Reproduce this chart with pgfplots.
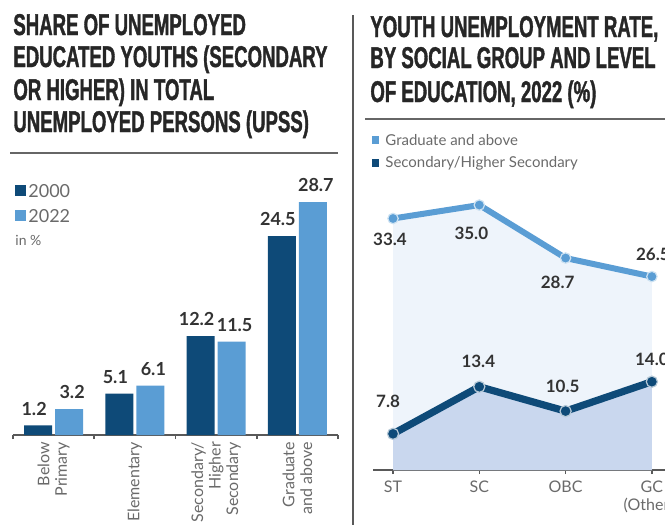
\documentclass[border=0pt]{standalone}
\usepackage{pgfplots}
\pgfplotsset{compat=1.18}
\usepackage{fontspec}
\setmainfont{Lato}
\newfontfamily\titlefont{Liberation Sans}[FakeStretch=0.62, FakeBold=1.2]
\definecolor{dkblue}{HTML}{0E4A78}
\definecolor{ltblue}{HTML}{5A9DD4}
\definecolor{areaL}{HTML}{EEF4FB}
\definecolor{areaD}{HTML}{C9D7EE}
\definecolor{txtgray}{HTML}{6A6A6A}
\definecolor{numgray}{HTML}{333333}
\definecolor{ttl}{HTML}{262626}
\def\u{0.5pt}
\begin{document}
\begin{tikzpicture}
\path[use as bounding box] (0,0) rectangle (665*\u,-525*\u);
% titles
\begin{scope}[every node/.style={anchor=base west, inner sep=0pt, text=ttl, font=\titlefont\bfseries\fontsize{15}{16}\selectfont}]
\node at (13*\u,-35*\u) {SHARE OF UNEMPLOYED};
\node at (13*\u,-67*\u) {EDUCATED YOUTHS (SECONDARY};
\node at (13*\u,-100*\u) {OR HIGHER) IN TOTAL};
\node at (13*\u,-132*\u) {UNEMPLOYED PERSONS (UPSS)};
\node at (370*\u,-37*\u) {YOUTH UNEMPLOYMENT RATE,};
\node at (370*\u,-68*\u) {BY SOCIAL GROUP AND LEVEL};
\node at (370*\u,-102*\u) {OF EDUCATION, 2022 (\%)};
\end{scope}
% rules
\draw[gray!80!black, line width=1pt] (10*\u,-153*\u) -- (338*\u,-153*\u);
\draw[gray!80!black, line width=1pt] (365*\u,-119*\u) -- (665*\u,-119*\u);
\draw[gray!70!black, line width=0.8pt] (353*\u,-15*\u) -- (353*\u,-525*\u);
% left legend
\fill[dkblue] (15*\u,-185*\u) rectangle (26*\u,-196*\u);
\fill[ltblue] (15*\u,-210*\u) rectangle (26*\u,-221*\u);
\node[anchor=west, inner sep=0pt, text=txtgray, font=\fontsize{9}{10}\selectfont] at (28*\u,-191*\u) {2000};
\node[anchor=west, inner sep=0pt, text=txtgray, font=\fontsize{9}{10}\selectfont] at (28*\u,-216*\u) {2022};
\node[anchor=west, inner sep=0pt, text=txtgray, font=\fontsize{7}{8}\selectfont] at (15*\u,-240*\u) {in \%};
% right legend
\fill[ltblue] (372*\u,-136*\u) rectangle (379*\u,-144*\u);
\fill[dkblue] (372*\u,-159*\u) rectangle (379*\u,-167*\u);
\node[anchor=west, inner sep=0pt, text=txtgray, font=\fontsize{7.5}{8}\selectfont] at (385*\u,-140*\u) {Graduate and above};
\node[anchor=west, inner sep=0pt, text=txtgray, font=\fontsize{7.5}{8}\selectfont] at (385*\u,-163*\u) {Secondary/Higher Secondary};
% left bar chart
\begin{axis}[
  at={(13*\u,-435*\u)}, anchor=south west,
  scale only axis, width=325*\u, height=284*\u,
  xmin=-0.5, xmax=3.5, ymin=0, ymax=35,
  axis x line*=bottom, axis y line=none,
  x axis line style={gray!70!black, line width=0.8pt, -},
  ybar=3*\u, bar width=28*\u,
  xtick={0,1,2,3},
  xticklabels={{Below\\Primary},{Elementary},{Secondary/\\Higher\\Secondary},{Graduate\\and above}},
  xticklabel style={rotate=90, anchor=east, align=right, text=txtgray, font=\fontsize{8}{8.8}\selectfont},
  major tick length=0pt,
  minor xtick={-0.5,0.5,1.5,2.5,3.5},
  minor tick length=4*\u, tick align=outside,
  tick style={gray!70!black, line width=0.8pt},
  clip=false,
  nodes near coords,
  nodes near coords style={font=\bfseries\fontsize{9}{10}\selectfont, text=numgray, yshift=1.5pt},
  point meta=explicit symbolic,
]
\addplot[fill=dkblue, draw=none, nodes near coords style={xshift=-2pt}] coordinates {(0,1.2)[1.2] (1,5.1)[5.1] (2,12.2)[12.2] (3,24.5)[24.5]};
\addplot[fill=ltblue, draw=none, nodes near coords style={xshift=1.5pt}] coordinates {(0,3.2)[3.2] (1,6.1)[6.1] (2,11.5)[11.5] (3,28.7)[28.7]};
\end{axis}
% right line chart
\begin{axis}[
  at={(373*\u,-470*\u)}, anchor=south west,
  scale only axis, width=292*\u, height=307*\u,
  xmin=-0.232, xmax=3.152, ymin=3.5, ymax=40,
  axis x line*=bottom, axis y line=none,
  x axis line style={gray!70!black, line width=0.8pt, -},
  xtick={0,1,2,3},
  xticklabels={ST,SC,OBC,{GC\\(Others)}},
  xticklabel style={align=center, text=txtgray, font=\fontsize{8}{9}\selectfont},
  major tick length=4*\u, tick align=outside,
  tick style={gray!70!black, line width=0.8pt},
  clip=false,
]
\addplot[fill=areaL, draw=none] coordinates {(0,3.5) (0,33.4) (1,35.0) (2,28.7) (3,26.5) (3,3.5)} -- cycle;
\addplot[fill=areaD, draw=none] coordinates {(0,3.5) (0,7.8) (1,13.4) (2,10.5) (3,14.0) (3,3.5)} -- cycle;
\addplot[ltblue, line width=3pt, mark=*, mark size=2.6pt, mark options={fill=ltblue, draw=white!70!ltblue, line width=0.6pt}] coordinates {(0,33.4) (1,35.0) (2,28.7) (3,26.5)};
\addplot[dkblue, line width=3.6pt, mark=*, mark size=2.8pt, mark options={fill=dkblue, draw=white!70!dkblue, line width=0.6pt}] coordinates {(0,7.8) (1,13.4) (2,10.5) (3,14.0)};
\begin{scope}[every node/.style={font=\bfseries\fontsize{8.5}{9}\selectfont, text=numgray}]
\node[xshift=-3*\u, yshift=-21*\u] at (axis cs:0,33.4) {33.4};
\node[xshift=-8*\u, yshift=-28*\u] at (axis cs:1,35.0) {35.0};
\node[xshift=-8*\u, yshift=-24*\u] at (axis cs:2,28.7) {28.7};
\node[xshift=1*\u, yshift=22*\u] at (axis cs:3,26.5) {26.5};
\node[xshift=-5*\u, yshift=32*\u] at (axis cs:0,7.8) {7.8};
\node[xshift=-1*\u, yshift=25*\u] at (axis cs:1,13.4) {13.4};
\node[xshift=-3*\u, yshift=25*\u] at (axis cs:2,10.5) {10.5};
\node[xshift=0*\u, yshift=22*\u] at (axis cs:3,14.0) {14.0};
\end{scope}
\end{axis}
\end{tikzpicture}
\end{document}
